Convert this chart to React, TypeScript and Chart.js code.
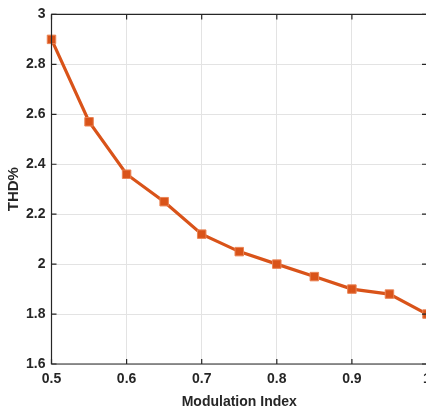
import React, { useEffect, useRef } from "react";
import { Chart, registerables } from "chart.js";

Chart.register(...registerables);

const modulationIndex = [0.5, 0.55, 0.6, 0.65, 0.7, 0.75, 0.8, 0.85, 0.9, 0.95, 1.0];
const thdPercent = [2.9, 2.57, 2.36, 2.25, 2.12, 2.05, 2.0, 1.95, 1.9, 1.88, 1.8];

const X_MIN = 0.5;
const X_MAX = 1.0;
const Y_MIN = 1.6;
const Y_MAX = 3.0;

const LINE_COLOR = "#D95319";
const AXIS_COLOR = "#262626";
const GRID_COLOR = "#e3e3e3";
const FONT = "'Liberation Sans', Arial, sans-serif";

// Draws the closed axes box with inward-pointing tick marks on every side.
const boxPlugin = {
  id: "axesBox",
  afterDraw(chart: any) {
    const { ctx, chartArea, scales } = chart;
    const { left, right, top, bottom } = chartArea;
    const len = 5;
    ctx.save();
    ctx.strokeStyle = AXIS_COLOR;
    ctx.lineWidth = 1.2;
    ctx.beginPath();
    ctx.rect(left, top, right - left, bottom - top);
    ctx.stroke();
    ctx.beginPath();
    scales.x.ticks.forEach((t: any) => {
      const px = scales.x.getPixelForValue(t.value);
      ctx.moveTo(px, bottom);
      ctx.lineTo(px, bottom - len);
      ctx.moveTo(px, top);
      ctx.lineTo(px, top + len);
    });
    scales.y.ticks.forEach((t: any) => {
      const py = scales.y.getPixelForValue(t.value);
      ctx.moveTo(left, py);
      ctx.lineTo(left + len, py);
      ctx.moveTo(right, py);
      ctx.lineTo(right - len, py);
    });
    ctx.stroke();
    ctx.restore();
  },
};

export default function App() {
  const ref = useRef<HTMLCanvasElement | null>(null);

  useEffect(() => {
    document.body.style.margin = "0";
    const canvas = ref.current;
    if (!canvas) return;
    const chart = new Chart(canvas, {
      type: "line",
      data: {
        datasets: [
          {
            data: modulationIndex.map((x, i) => ({ x, y: thdPercent[i] })),
            borderColor: LINE_COLOR,
            backgroundColor: LINE_COLOR,
            borderWidth: 3.2,
            pointStyle: "rect",
            pointRadius: 6,
            pointBorderWidth: 1,
            pointBorderColor: "#ea8455",
            pointBackgroundColor: LINE_COLOR,
            tension: 0,
            clip: false,
          },
        ],
      },
      options: {
        animation: false,
        responsive: false,
        maintainAspectRatio: false,
        layout: { padding: { left: 0, right: 15, top: 12, bottom: 0 } },
        plugins: { legend: { display: false }, tooltip: { enabled: false } },
        scales: {
          x: {
            type: "linear",
            min: X_MIN,
            max: X_MAX,
            afterFit: (s: any) => {
              s.height = 47;
            },
            ticks: {
              stepSize: 0.1,
              color: AXIS_COLOR,
              padding: 7,
              font: { family: FONT, size: 14, weight: "bold" },
              callback: (v: any) => String(Math.round(Number(v) * 10) / 10),
            },
            grid: { color: GRID_COLOR, drawTicks: false, tickLength: 0 },
            border: { display: false },
            title: {
              display: true,
              text: "Modulation Index",
              color: AXIS_COLOR,
              padding: { top: 0, bottom: 0 },
              font: { family: FONT, size: 14, weight: "bold" },
            },
          },
          y: {
            type: "linear",
            min: Y_MIN,
            max: Y_MAX,
            afterFit: (s: any) => {
              s.width = 51.5;
            },
            ticks: {
              stepSize: 0.2,
              color: AXIS_COLOR,
              padding: 6,
              font: { family: FONT, size: 14, weight: "bold" },
              callback: (v: any) => String(Math.round(Number(v) * 10) / 10),
            },
            grid: { color: GRID_COLOR, drawTicks: false, tickLength: 0 },
            border: { display: false },
            title: {
              display: true,
              text: "THD%",
              color: AXIS_COLOR,
              padding: { top: 5, bottom: 0 },
              font: { family: FONT, size: 15, weight: "bold" },
            },
          },
        },
      },
      plugins: [boxPlugin],
    } as any);
    return () => chart.destroy();
  }, []);

  return (
    <div style={{ position: "relative", width: 426, height: 411, overflow: "hidden" }}>
      <canvas ref={ref} width={442} height={411} style={{ display: "block" }} />
    </div>
  );
}
